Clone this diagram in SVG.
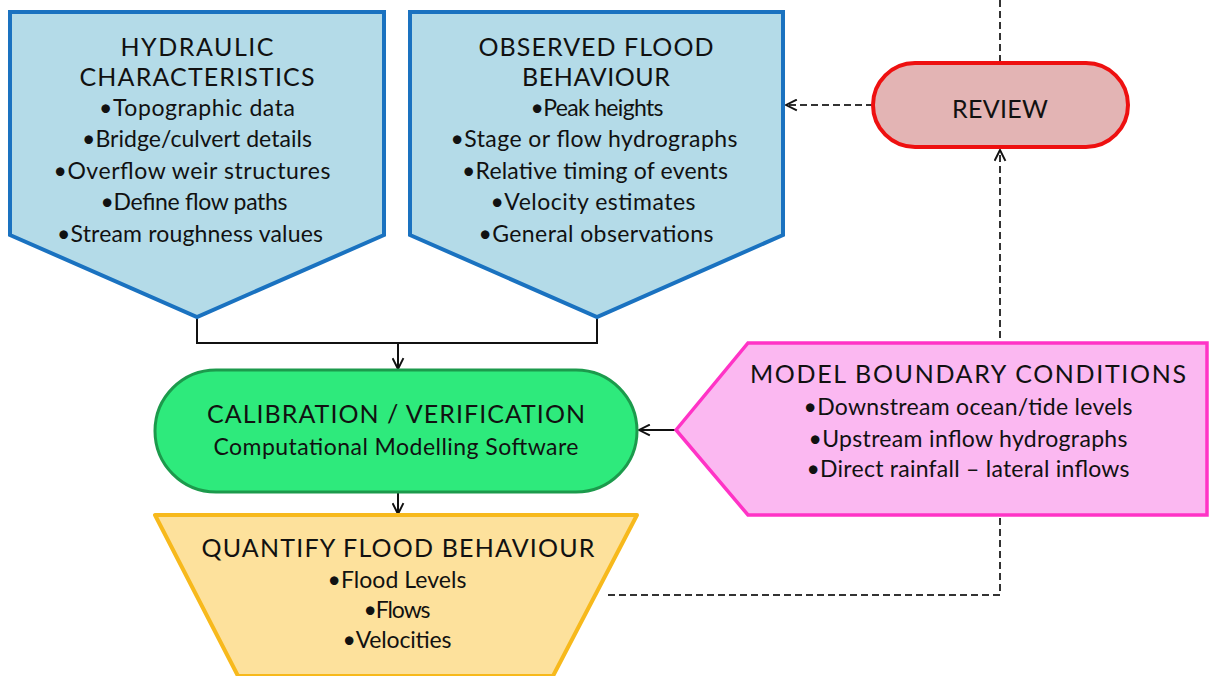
<svg xmlns="http://www.w3.org/2000/svg" width="1210" height="676" viewBox="0 0 1210 676">
<style>
text{font-family:"Lato","Liberation Sans",sans-serif;fill:#111;text-anchor:middle;font-size:23px}
.h{font-size:25px}
.blue{fill:#b4dbe8;stroke:#1a72c0;stroke-width:4;stroke-linejoin:miter}
.green{fill:#2eea7c;stroke:#1c9a4c;stroke-width:3}
.red{fill:#e3b4b4;stroke:#ee1010;stroke-width:4}
.pink{fill:#fbb8f1;stroke:#ff33c6;stroke-width:3.5}
.yellow{fill:#fde19c;stroke:#f7b91c;stroke-width:4;stroke-linejoin:round}
.solid{fill:none;stroke:#111;stroke-width:2}
.dash{fill:none;stroke:#333;stroke-width:2;stroke-dasharray:7 4}
</style>
<defs>
<marker id="arr" viewBox="0 0 12 12" refX="11" refY="6" markerWidth="13" markerHeight="13" markerUnits="userSpaceOnUse" orient="auto">
<path d="M1,1 L11,6 L1,11" fill="none" stroke="#111" stroke-width="1.8"/>
</marker>
</defs>
<g id="connectors">
<path class="solid" d="M197,317 V343 H597 V317"/>
<path class="solid" d="M398,343 V369" marker-end="url(#arr)"/>
<path class="solid" d="M398,492 V514" marker-end="url(#arr)"/>
<path class="solid" d="M676,430 H639" marker-end="url(#arr)"/>
<path class="dash" d="M873,105 H786" marker-end="url(#arr)"/>
<path class="dash" d="M1000,0 V63"/>
<path class="dash" d="M608,595 H1000 V150" marker-end="url(#arr)"/>
</g>
<g id="hydraulic">
<polygon class="blue" points="10,12 384,12 384,235 197,317 10,235"/>
<text class="h" x="197" y="56" textLength="153">HYDRAULIC</text>
<text class="h" x="197" y="86" textLength="235">CHARACTERISTICS</text>
<text x="197" y="116" textLength="196">•Topographic data</text>
<text x="197" y="147" textLength="230">•Bridge/culvert details</text>
<text x="192" y="179" textLength="277">•Overflow weir structures</text>
<text x="194" y="210" textLength="187">•Define flow paths</text>
<text x="190" y="242" textLength="266">•Stream roughness values</text>
</g>
<g id="observed">
<polygon class="blue" points="410,12 783,12 783,235 597,317 410,235"/>
<text class="h" x="596" y="56" textLength="235">OBSERVED FLOOD</text>
<text class="h" x="596" y="86" textLength="148">BEHAVIOUR</text>
<text x="597" y="116" textLength="133">•Peak heights</text>
<text x="594" y="147" textLength="287">•Stage or flow hydrographs</text>
<text x="595" y="179" textLength="266">•Relative timing of events</text>
<text x="593" y="210" textLength="205">•Velocity estimates</text>
<text x="596" y="242" textLength="235">•General observations</text>
</g>
<g id="review">
<rect class="red" x="873" y="63" width="255" height="84" rx="42" ry="42"/>
<text class="h" x="1000" y="118" textLength="96">REVIEW</text>
</g>
<g id="calibration">
<rect class="green" x="155" y="370" width="482" height="122" rx="61" ry="61"/>
<text class="h" x="396" y="423" textLength="378">CALIBRATION / VERIFICATION</text>
<text x="396" y="455" textLength="365">Computational Modelling Software</text>
</g>
<g id="boundary">
<polygon class="pink" points="676,430 748,343 1207,343 1207,515 748,515"/>
<text class="h" x="968" y="383" textLength="436">MODEL BOUNDARY CONDITIONS</text>
<text x="968" y="415" textLength="329">•Downstream ocean/tide levels</text>
<text x="968" y="447" textLength="319">•Upstream inflow hydrographs</text>
<text x="968" y="477" textLength="323">•Direct rainfall – lateral inflows</text>
</g>
<g id="quantify">
<polygon class="yellow" points="155,515 637,515 553,676 238,676"/>
<text class="h" x="398" y="557" textLength="393">QUANTIFY FLOOD BEHAVIOUR</text>
<text x="397" y="588" textLength="139">•Flood Levels</text>
<text x="397" y="618" textLength="67">•Flows</text>
<text x="397" y="648" textLength="109">•Velocities</text>
</g>
</svg>
